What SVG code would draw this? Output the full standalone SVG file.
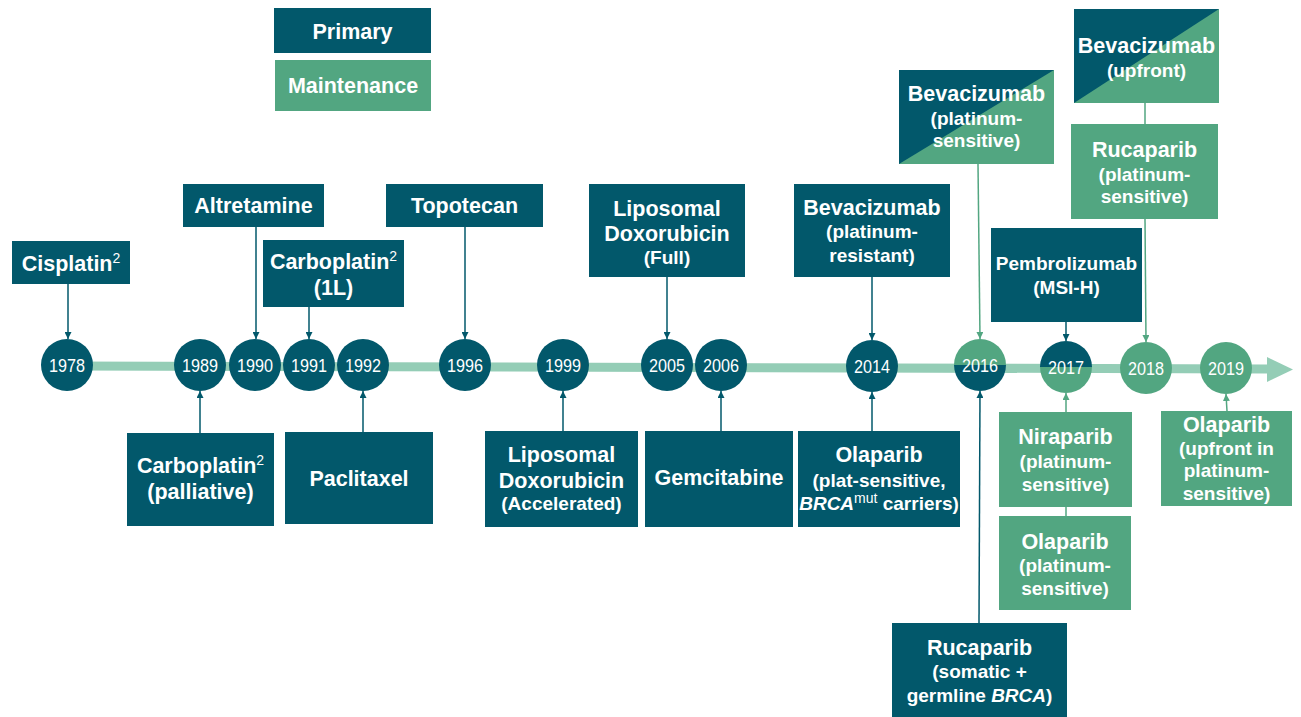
<svg xmlns="http://www.w3.org/2000/svg" width="1301" height="717" viewBox="0 0 1301 717">
<defs>
<style>
.d{fill:#02586B}
.g{fill:#52A681}
.t{font-family:"Liberation Sans",Arial,sans-serif;font-weight:bold;fill:#fff;text-anchor:middle;font-size:21.5px}
.s{font-size:19px}
.y{font-family:"Liberation Sans",Arial,sans-serif;fill:#fff;text-anchor:middle;font-size:18px}
.cd{stroke:#02586B;stroke-width:1.5;fill:none}
.cg{stroke:#52A681;stroke-width:1.5;fill:none}
.sup{font-size:14px;font-weight:normal}
</style>
<marker id="ad" viewBox="0 0 10 10" refX="10" refY="5" markerWidth="7" markerHeight="7" markerUnits="userSpaceOnUse" orient="auto"><path d="M0,0 L10,5 L0,10 Z" fill="#02586B"/></marker>
<marker id="ag" viewBox="0 0 10 10" refX="10" refY="5" markerWidth="7" markerHeight="7" markerUnits="userSpaceOnUse" orient="auto"><path d="M0,0 L10,5 L0,10 Z" fill="#52A681"/></marker>
</defs>
<rect width="1301" height="717" fill="#fff"/>

<g id="timeline">
<path d="M68,366 L1268,369" stroke="#94CDB6" stroke-width="9" fill="none"/>
<polygon points="1267,357 1293,369.5 1267,382" fill="#94CDB6"/>
</g>

<g id="connectors">
<path class="cd" d="M68,284 V339" marker-end="url(#ad)"/>
<path class="cd" d="M256,227 V339" marker-end="url(#ad)"/>
<path class="cd" d="M309,307 V339" marker-end="url(#ad)"/>
<path class="cd" d="M200,433 V391" marker-end="url(#ad)"/>
<path class="cd" d="M363,432 V391" marker-end="url(#ad)"/>
<path class="cd" d="M465,227 V339" marker-end="url(#ad)"/>
<path class="cd" d="M667,277 V339" marker-end="url(#ad)"/>
<path class="cd" d="M563,431 V391" marker-end="url(#ad)"/>
<path class="cd" d="M721,431 V391" marker-end="url(#ad)"/>
<path class="cd" d="M872,277 V340" marker-end="url(#ad)"/>
<path class="cd" d="M872,431 V392" marker-end="url(#ad)"/>
<path class="cg" d="M978,164 L980,339" marker-end="url(#ag)"/>
<path class="cg" d="M1145,103 V124"/>
<path class="cg" d="M1145,219 L1146,342" marker-end="url(#ag)"/>
<path class="cd" d="M1066,322 V341" marker-end="url(#ad)"/>
<path class="cd" d="M979,623 L980,391" marker-end="url(#ad)"/>
<path class="cg" d="M1066,412 V393" marker-end="url(#ag)"/>
<path class="cg" d="M1066,507 V516"/>
<path class="cg" d="M1227,411 L1226,394" marker-end="url(#ag)"/>
</g>

<g id="legend-primary"><rect class="d" x="274" y="8" width="157" height="45"/><text class="t" x="352.5" y="39">Primary</text></g>
<g id="legend-maintenance"><rect class="g" x="275" y="60" width="156" height="51"/><text class="t" x="353" y="93">Maintenance</text></g>

<g id="y1978"><circle class="d" cx="67" cy="365" r="26"/><text class="y" x="67" y="371.5" textLength="36" lengthAdjust="spacingAndGlyphs">1978</text></g>
<g id="y1989"><circle class="d" cx="200" cy="365" r="26"/><text class="y" x="200" y="371.5" textLength="36" lengthAdjust="spacingAndGlyphs">1989</text></g>
<g id="y1990"><circle class="d" cx="255" cy="365" r="26"/><text class="y" x="255" y="371.5" textLength="36" lengthAdjust="spacingAndGlyphs">1990</text></g>
<g id="y1991"><circle class="d" cx="309" cy="365" r="26"/><text class="y" x="309" y="371.5" textLength="36" lengthAdjust="spacingAndGlyphs">1991</text></g>
<g id="y1992"><circle class="d" cx="363" cy="365" r="26"/><text class="y" x="363" y="371.5" textLength="36" lengthAdjust="spacingAndGlyphs">1992</text></g>
<g id="y1996"><circle class="d" cx="465" cy="365" r="26"/><text class="y" x="465" y="371.5" textLength="36" lengthAdjust="spacingAndGlyphs">1996</text></g>
<g id="y1999"><circle class="d" cx="563" cy="365" r="26"/><text class="y" x="563" y="371.5" textLength="36" lengthAdjust="spacingAndGlyphs">1999</text></g>
<g id="y2005"><circle class="d" cx="667" cy="365" r="26"/><text class="y" x="667" y="371.5" textLength="36" lengthAdjust="spacingAndGlyphs">2005</text></g>
<g id="y2006"><circle class="d" cx="721" cy="365" r="26"/><text class="y" x="721" y="371.5" textLength="36" lengthAdjust="spacingAndGlyphs">2006</text></g>
<g id="y2014"><circle class="d" cx="872" cy="366" r="26"/><text class="y" x="872" y="372.5" textLength="36" lengthAdjust="spacingAndGlyphs">2014</text></g>
<g id="y2016"><path class="g" d="M954,365 A26,26 0 0 1 1006,365 Z"/><path class="d" d="M954,365 A26,26 0 0 0 1006,365 Z"/><text class="y" x="980" y="371.5" textLength="36" lengthAdjust="spacingAndGlyphs">2016</text></g>
<g id="y2017"><path class="d" d="M1040,367 A26,26 0 0 1 1092,367 Z"/><path class="g" d="M1040,367 A26,26 0 0 0 1092,367 Z"/><text class="y" x="1066" y="373.5" textLength="36" lengthAdjust="spacingAndGlyphs">2017</text></g>
<g id="y2018"><circle class="g" cx="1146" cy="368" r="26"/><text class="y" x="1146" y="374.5" textLength="36" lengthAdjust="spacingAndGlyphs">2018</text></g>
<g id="y2019"><circle class="g" cx="1226" cy="368" r="26"/><text class="y" x="1226" y="374.5" textLength="36" lengthAdjust="spacingAndGlyphs">2019</text></g>

<g id="cisplatin"><rect class="d" x="12" y="241" width="118" height="43"/><text class="t" x="71" y="271">Cisplatin<tspan class="sup" dy="-8">2</tspan></text></g>
<g id="altretamine"><rect class="d" x="183" y="184" width="141" height="43"/><text class="t" x="253.5" y="213">Altretamine</text></g>
<g id="carboplatin-1l"><rect class="d" x="263" y="240" width="141" height="67"/><text class="t" x="333.5" y="269">Carboplatin<tspan class="sup" dy="-8">2</tspan></text><text class="t" x="333.5" y="295">(1L)</text></g>
<g id="carboplatin-palliative"><rect class="d" x="127" y="433" width="147" height="93"/><text class="t" x="200.5" y="473">Carboplatin<tspan class="sup" dy="-8">2</tspan></text><text class="t" x="200.5" y="499">(palliative)</text></g>
<g id="paclitaxel"><rect class="d" x="285" y="432" width="148" height="92"/><text class="t" x="359" y="486">Paclitaxel</text></g>
<g id="topotecan"><rect class="d" x="386" y="184" width="157" height="43"/><text class="t" x="464.5" y="213">Topotecan</text></g>
<g id="lipo-full"><rect class="d" x="589" y="184" width="156" height="93"/><text class="t" x="667" y="216">Liposomal</text><text class="t" x="667" y="241">Doxorubicin</text><text class="t s" x="667" y="264">(Full)</text></g>
<g id="lipo-accel"><rect class="d" x="485" y="431" width="153" height="96"/><text class="t" x="561.5" y="462">Liposomal</text><text class="t" x="561.5" y="488">Doxorubicin</text><text class="t s" x="561.5" y="510">(Accelerated)</text></g>
<g id="gemcitabine"><rect class="d" x="645" y="431" width="148" height="96"/><text class="t" x="719" y="485">Gemcitabine</text></g>
<g id="bev-resistant"><rect class="d" x="794" y="184" width="156" height="93"/><text class="t" x="872" y="215">Bevacizumab</text><text class="t s" x="872" y="238">(platinum-</text><text class="t s" x="872" y="262">resistant)</text></g>
<g id="olaparib-brca"><rect class="d" x="798" y="431" width="162" height="96"/><text class="t" x="879" y="462">Olaparib</text><text class="t s" x="879" y="487">(plat-sensitive,</text><text class="t s" x="879" y="510"><tspan font-style="italic">BRCA</tspan><tspan class="sup" dy="-7">mut</tspan><tspan dy="7"> carriers)</tspan></text></g>
<g id="bev-sensitive"><rect class="g" x="899" y="70" width="155" height="94"/><polygon class="d" points="899,70 1054,70 899,164"/><text class="t" x="976.5" y="101">Bevacizumab</text><text class="t s" x="976.5" y="125">(platinum-</text><text class="t s" x="976.5" y="147">sensitive)</text></g>
<g id="bev-upfront"><rect class="g" x="1074" y="9" width="145" height="94"/><polygon class="d" points="1074,9 1219,9 1074,103"/><text class="t" x="1146.5" y="53">Bevacizumab</text><text class="t s" x="1146.5" y="77">(upfront)</text></g>
<g id="rucaparib-sensitive"><rect class="g" x="1071" y="124" width="147" height="95"/><text class="t" x="1144.5" y="157">Rucaparib</text><text class="t s" x="1144.5" y="181">(platinum-</text><text class="t s" x="1144.5" y="203">sensitive)</text></g>
<g id="pembrolizumab"><rect class="d" x="991" y="228" width="151" height="94"/><text class="t s" x="1066.5" y="270">Pembrolizumab</text><text class="t s" x="1066.5" y="294">(MSI-H)</text></g>
<g id="rucaparib-somatic"><rect class="d" x="892" y="623" width="175" height="94"/><text class="t" x="979.5" y="655">Rucaparib</text><text class="t s" x="979.5" y="678">(somatic +</text><text class="t s" x="979.5" y="702">germline <tspan font-style="italic">BRCA</tspan>)</text></g>
<g id="niraparib"><rect class="g" x="999" y="412" width="133" height="95"/><text class="t" x="1065.5" y="444">Niraparib</text><text class="t s" x="1065.5" y="468">(platinum-</text><text class="t s" x="1065.5" y="491">sensitive)</text></g>
<g id="olaparib-sensitive"><rect class="g" x="999" y="516" width="132" height="94"/><text class="t" x="1065" y="549">Olaparib</text><text class="t s" x="1065" y="572">(platinum-</text><text class="t s" x="1065" y="595">sensitive)</text></g>
<g id="olaparib-upfront"><rect class="g" x="1161" y="411" width="131" height="95"/><text class="t" x="1226.5" y="432">Olaparib</text><text class="t s" x="1226.5" y="455">(upfront in</text><text class="t s" x="1226.5" y="477">platinum-</text><text class="t s" x="1226.5" y="500">sensitive)</text></g>
</svg>
